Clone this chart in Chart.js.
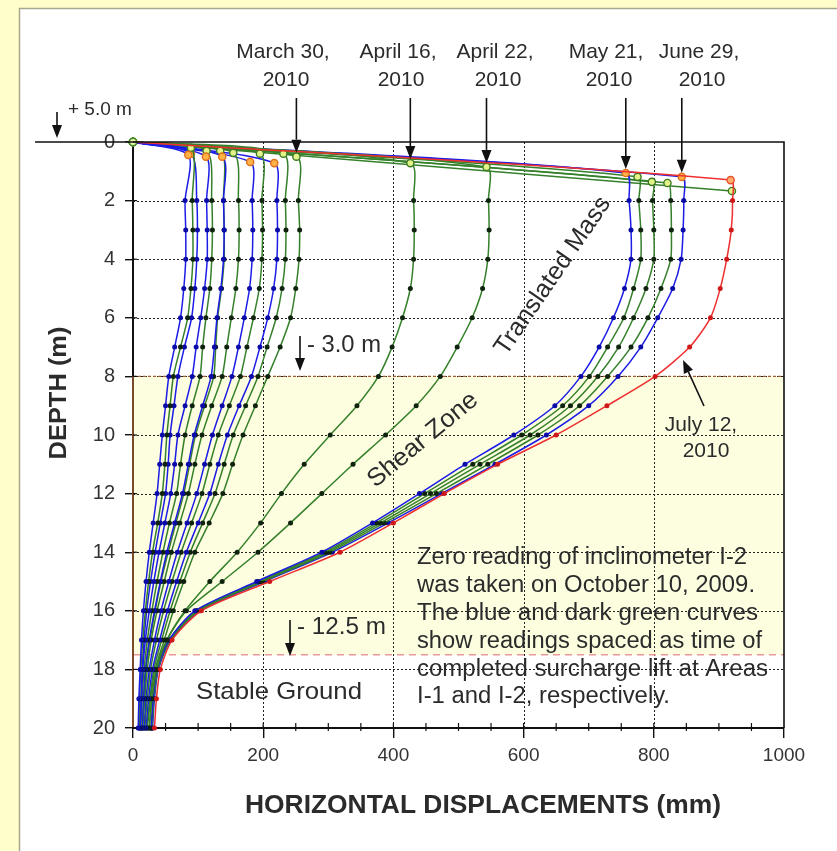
<!DOCTYPE html>
<html>
<head>
<meta charset="utf-8">
<script src="https://cdn.jsdelivr.net/npm/chart.js@4.4.0/dist/chart.umd.min.js"></script>
<style>
  html, body { margin: 0; padding: 0; background: #ffffcc; }
  #wrap { position: relative; width: 837px; height: 851px; }
</style>
</head>
<body>
<div id="wrap"><canvas id="grafico" width="837" height="851"></canvas></div>
<script>
// Inclinometer I-2: depth (m) vs horizontal displacement (mm)

const depths = [2, 3, 4, 5, 6, 7, 8, 9, 10, 11, 12, 13, 14, 15, 16, 17, 18, 19, 20];

// left group of readings
const b1 = [80, 81, 81, 78, 73, 64, 55, 50, 45, 41, 37, 31, 25, 20, 16, 13, 11, 9, 8];
const g1 = [91, 92, 92, 89, 84, 73, 62, 57, 52, 49, 45, 38, 30, 24, 19, 15, 12, 10, 9];
const b2 = [98, 99, 98, 95, 90, 79, 69, 63, 57, 54, 50, 42, 34, 27, 21, 17, 14, 12, 10];
const b3 = [113, 114, 114, 110, 104, 97, 91, 80, 69, 64, 58, 49, 40, 32, 25, 19, 15, 13, 11];
const g2 = [121, 122, 121, 118, 112, 107, 103, 91, 80, 73, 67, 56, 46, 37, 29, 22, 17, 14, 12];
const b4 = [139, 140, 139, 135, 129, 125, 120, 107, 94, 85, 76, 64, 52, 42, 33, 25, 19, 16, 14];
const g3 = [139, 140, 140, 136, 130, 127, 124, 110, 96, 87, 78, 66, 54, 43, 34, 26, 20, 17, 14];
const g4 = [162, 163, 162, 158, 151, 144, 137, 121, 106, 95, 85, 72, 59, 48, 37, 28, 22, 18, 15];
const b5 = [183, 184, 183, 179, 171, 162, 152, 137, 122, 110, 98, 83, 68, 55, 43, 33, 25, 20, 17];
const g5 = [198, 199, 198, 194, 185, 175, 165, 148, 131, 118, 106, 90, 74, 60, 47, 36, 27, 22, 18];
const b6 = [221, 222, 221, 216, 207, 195, 182, 163, 145, 131, 118, 100, 82, 67, 53, 41, 30, 24, 20];
const g6 = [234, 235, 234, 229, 220, 206, 192, 173, 154, 140, 126, 107, 88, 72, 57, 44, 32, 26, 21];
const mar30 = [254, 256, 255, 250, 242, 226, 207, 188, 169, 153, 138, 117, 95, 78, 62, 48, 34, 27, 22];

// middle readings
const apr16 = [431, 432, 431, 426, 414, 398, 377, 344, 303, 263, 228, 196, 160, 118, 80, 52, 36, 29, 25];
const apr22 = [546, 547, 545, 537, 521, 498, 472, 435, 388, 338, 290, 242, 192, 137, 82, 52, 36, 29, 25];

// right group of readings
const may21 = [762, 765, 765, 755, 738, 716, 688, 648, 585, 510, 440, 368, 290, 190, 95, 55, 37, 31, 28];
const g7 = [777, 780, 780, 769, 754, 729, 701, 660, 597, 522, 448, 374, 294, 193, 97, 55, 37, 31, 28];
const g8 = [798, 800, 800, 788, 769, 746, 714, 672, 610, 533, 457, 380, 298, 196, 99, 56, 38, 32, 29];
const g9 = [826, 827, 826, 811, 791, 765, 729, 686, 622, 545, 466, 386, 302, 199, 101, 57, 38, 32, 29];
const jun29 = [846, 845, 842, 829, 806, 780, 745, 700, 635, 556, 474, 392, 306, 202, 103, 58, 39, 33, 30];
const jul12 = [921, 919, 912, 902, 887, 855, 802, 728, 650, 560, 478, 400, 318, 210, 105, 60, 42, 36, 33];

// casing top reading of every series (first point after the zero at the surface)
const seriesLabels = ['I-1 a', 'I-2 a', 'I-1 b', 'I-1 c', 'I-2 b', 'I-1 d', 'I-2 c', 'I-2 d', 'I-1 e', 'I-2 e', 'I-1 f', 'I-2 f',
  'March 30, 2010', 'April 16, 2010', 'April 22, 2010', 'May 21, 2010', 'I-2 g', 'I-2 h', 'I-2 i', 'June 29, 2010', 'July 12, 2010', 'I-2 top'];
const seriesKind = ['blue', 'green', 'blue', 'blue', 'green', 'blue', 'green', 'green', 'blue', 'green', 'blue', 'green',
  'green', 'green', 'green', 'blue', 'green', 'green', 'green', 'blue', 'red', 'green'];
const topX = [85, 89, 89, 112, 113, 137, 134, 154, 180, 195, 217, 231, 251, 426, 543, 757, 775, 797, 821, 843, 918, 920];
const topDepth = [0.44, 0.2, 0.4, 0.5, 0.3, 0.5, 0.3, 0.37, 0.68, 0.4, 0.72, 0.4, 0.5, 0.72, 0.85, 1.06, 1.19, 1.36, 1.4, 1.19, 1.3, 1.67];
const readings = [b1, g1, b2, b3, g2, b4, g3, g4, b5, g5, b6, g6, mar30, apr16, apr22, may21, g7, g8, g9, jun29, jul12, []];

// shaded shear zone and ticks
const bandTop = 8;
const bandBottom = 17.5;
const xTicks = [0, 200, 400, 600, 800, 1000];
const yTicks = [0, 2, 4, 6, 8, 10, 12, 14, 16, 18, 20];

const estilos = {
  blue: { line: '#1c1ce6', dot: '#0a0aa8', topFill: '#ffb347', topBorder: '#e0701a' },
  green: { line: '#35802a', dot: '#0e220e', topFill: '#e4f28a', topBorder: '#3b7a22' },
  red: { line: '#ee3030', dot: '#d01818', topFill: '#ffb070', topBorder: '#e8502a' }
};

const datasets = seriesLabels.map((label, i) => {
  const st = estilos[seriesKind[i]];
  const pts = [{ x: 0, y: 0 }, { x: topX[i], y: topDepth[i] }];
  readings[i].forEach((v, k) => pts.push({ x: v, y: depths[k] }));
  return {
    label: label,
    data: pts,
    borderColor: st.line,
    borderWidth: 1.5,
    tension: 0.25,
    clip: false,
    order: seriesKind[i] === 'red' ? -1 : 0,
    pointRadius: pts.map((p, k) => k < 2 ? 3.6 : 2.5),
    pointBorderWidth: pts.map((p, k) => k < 2 ? 1.4 : 0),
    pointBackgroundColor: pts.map((p, k) => k === 0 ? '#eef6b0' : k === 1 ? st.topFill : st.dot),
    pointBorderColor: pts.map((p, k) => k === 0 ? '#4a8a2a' : k === 1 ? st.topBorder : st.dot)
  };
});

// texto com largura ajustada
function texto(ctx, str, x, y, font, width, angle, align) {
  ctx.save();
  ctx.font = font;
  ctx.fillStyle = '#2b2b2b';
  ctx.textBaseline = 'middle';
  ctx.textAlign = align || 'center';
  ctx.translate(x, y);
  if (angle) ctx.rotate(angle);
  if (width) ctx.scale(width / ctx.measureText(str).width, 1);
  ctx.fillText(str, 0, 0);
  ctx.restore();
}

function seta(ctx, x0, y0, x1, y1) {
  const ang = Math.atan2(y1 - y0, x1 - x0);
  const hl = 13, hw = 5;
  const bx = x1 - hl * Math.cos(ang), by = y1 - hl * Math.sin(ang);
  ctx.save();
  ctx.strokeStyle = '#111';
  ctx.fillStyle = '#111';
  ctx.lineWidth = 1.6;
  ctx.beginPath();
  ctx.moveTo(x0, y0);
  ctx.lineTo(bx, by);
  ctx.stroke();
  ctx.beginPath();
  ctx.moveTo(x1, y1);
  ctx.lineTo(bx + hw * Math.sin(ang), by - hw * Math.cos(ang));
  ctx.lineTo(bx - hw * Math.sin(ang), by + hw * Math.cos(ang));
  ctx.closePath();
  ctx.fill();
  ctx.restore();
}

const moldura = {
  id: 'moldura',
  beforeDraw(chart) {
    const ctx = chart.ctx, a = chart.chartArea, ys = chart.scales.y;
    ctx.save();
    ctx.fillStyle = '#ffffcc';
    ctx.fillRect(0, 0, chart.width, chart.height);
    ctx.fillStyle = '#ffffff';
    ctx.fillRect(19, 8, chart.width - 19, chart.height - 8);
    ctx.strokeStyle = '#a8a890';
    ctx.lineWidth = 1.5;
    ctx.strokeRect(19.5, 8.5, chart.width, chart.height);
    const y1 = ys.getPixelForValue(bandTop), y2 = ys.getPixelForValue(bandBottom);
    ctx.fillStyle = '#fdfde0';
    ctx.fillRect(a.left, y1, a.right - a.left, y2 - y1);
    ctx.restore();
  },
  beforeDatasetsDraw(chart) {
    const ctx = chart.ctx, a = chart.chartArea, xs = chart.scales.x, ys = chart.scales.y;
    ctx.save();
    ctx.strokeStyle = '#222';
    ctx.lineWidth = 1;
    ctx.setLineDash([2, 2]);
    yTicks.slice(1, -1).forEach(d => {
      const y = Math.round(ys.getPixelForValue(d)) + 0.5;
      ctx.beginPath(); ctx.moveTo(a.left, y); ctx.lineTo(a.right, y); ctx.stroke();
    });
    xTicks.slice(1, -1).forEach(v => {
      const x = Math.round(xs.getPixelForValue(v)) + 0.5;
      ctx.beginPath(); ctx.moveTo(x, a.top); ctx.lineTo(x, a.bottom); ctx.stroke();
    });
    // band edges
    ctx.strokeStyle = '#a0603a';
    ctx.lineWidth = 1.2;
    ctx.setLineDash([3, 2]);
    let y = ys.getPixelForValue(bandTop);
    ctx.beginPath(); ctx.moveTo(a.left, y); ctx.lineTo(a.right, y); ctx.stroke();
    ctx.strokeStyle = '#e89a9a';
    ctx.lineWidth = 1.5;
    ctx.setLineDash([7, 5]);
    y = ys.getPixelForValue(bandBottom);
    ctx.beginPath(); ctx.moveTo(a.left, y); ctx.lineTo(a.right, y); ctx.stroke();
    ctx.restore();
  },
  afterDatasetsDraw(chart) {
    const ctx = chart.ctx, a = chart.chartArea, xs = chart.scales.x, ys = chart.scales.y;
    ctx.save();
    // box
    ctx.strokeStyle = '#111';
    ctx.lineWidth = 1.6;
    ctx.beginPath();
    ctx.moveTo(35, a.top); ctx.lineTo(a.right, a.top); ctx.lineTo(a.right, a.bottom);
    ctx.stroke();
    ctx.strokeStyle = '#7a4a2a';
    ctx.lineWidth = 2;
    ctx.beginPath();
    ctx.moveTo(a.left, ys.getPixelForValue(bandTop)); ctx.lineTo(a.left, a.bottom - 1);
    ctx.stroke();
    // minor ticks
    ctx.strokeStyle = '#111';
    ctx.lineWidth = 1.2;
    for (let v = 50; v < 1000; v += 50) {
      const x = xs.getPixelForValue(v);
      ctx.beginPath(); ctx.moveTo(x, a.bottom - 5); ctx.lineTo(x, a.bottom + (v % 200 === 0 ? 0 : 3)); ctx.stroke();
    }
    yTicks.forEach(d => {
      const y = ys.getPixelForValue(d);
      ctx.beginPath(); ctx.moveTo(a.left, y); ctx.lineTo(a.left + 4, y); ctx.stroke();
    });
    ctx.restore();

    // date labels and arrows
    const fam = '"Liberation Sans", Arial, sans-serif';
    const fnt = '21px ' + fam;
    const datas = [[12, 'March 30,', 283], [13, 'April 16,', 398], [14, 'April 22,', 495], [15, 'May 21,', 606], [19, 'June 29,', 699]];
    datas.forEach(([i, txt, cx]) => {
      texto(ctx, txt, cx, 52, fnt);
      texto(ctx, '2010', cx + 3, 80, fnt);
      const px = xs.getPixelForValue(topX[i]);
      seta(ctx, px, 98, px, ys.getPixelForValue(topDepth[i]) - 4);
    });
    texto(ctx, 'July 12,', 701, 425, fnt);
    texto(ctx, '2010', 706, 451, fnt);
    seta(ctx, 704, 406, 683, 360);

    texto(ctx, '+ 5.0 m', 68, 110, '19px ' + fam, 0, 0, 'left');
    seta(ctx, 57, 112, 57, 138);
    texto(ctx, '- 3.0 m', 307, 346, '23px ' + fam, 74, 0, 'left');
    seta(ctx, 300, 336, 300, 371);
    texto(ctx, '- 12.5 m', 297, 628, '23px ' + fam, 89, 0, 'left');
    seta(ctx, 290, 620, 290, 656);

    texto(ctx, 'Stable Ground', 279, 692, '24px ' + fam, 166);
    texto(ctx, 'Shear Zone', 423, 440, '25px ' + fam, 135, -0.69);
    texto(ctx, 'Translated Mass', 553, 276, '25px ' + fam, 186, -0.97);

    const nota = [['Zero reading of inclinometer I-2', 330], ['was taken on October 10, 2009.', 338],
      ['The blue and dark green curves', 341], ['show readings spaced as time of', 345],
      ['completed surcharge lift at Areas', 351], ['I-1 and I-2, respectively.', 253]];
    nota.forEach(([t, w], k) => texto(ctx, t, 417, 558 + k * 27.8, '23px ' + fam, w, 0, 'left'));

    // axis titles
    ctx.save();
    texto(ctx, 'DEPTH (m)', 59, 393, 'bold 24px ' + fam, 133, -Math.PI / 2);
    texto(ctx, 'HORIZONTAL DISPLACEMENTS (mm)', 483, 806, 'bold 25px ' + fam, 476);
    ctx.restore();
  }
};

const config = {
  type: 'line',
  data: { datasets: datasets },
  options: {
    responsive: false,
    animation: false,
    events: [],
    layout: { padding: { left: 93, right: 53, top: 142, bottom: 63 } },
    plugins: { legend: { display: false }, tooltip: { enabled: false } },
    scales: {
      x: {
        type: 'linear', min: 0, max: 1000,
        afterBuildTicks: s => { s.ticks = xTicks.map(v => ({ value: v })); },
        afterFit: s => { s.height = 60; },
        ticks: { color: '#333', padding: 6, callback: v => String(v), font: { family: '"Liberation Sans Narrow", "Liberation Sans", Arial', size: 19 } },
        grid: { drawOnChartArea: false, color: '#111', tickLength: 10, lineWidth: 1.4 },
        border: { display: true, color: '#111', width: 2 }
      },
      y: {
        type: 'linear', min: 0, max: 20, reverse: true,
        afterBuildTicks: s => { s.ticks = yTicks.map(v => ({ value: v })); },
        afterFit: s => { s.width = 40; },
        ticks: { color: '#333', padding: 10, callback: v => String(v), font: { family: '"Liberation Sans", Arial', size: 20 } },
        grid: { drawOnChartArea: false, color: '#111', tickLength: 8, lineWidth: 1.4 },
        border: { display: true, color: '#111', width: 2 }
      }
    }
  },
  plugins: [moldura]
};

const grafico = new Chart(document.getElementById('grafico'), config);
</script>
</body>
</html>
